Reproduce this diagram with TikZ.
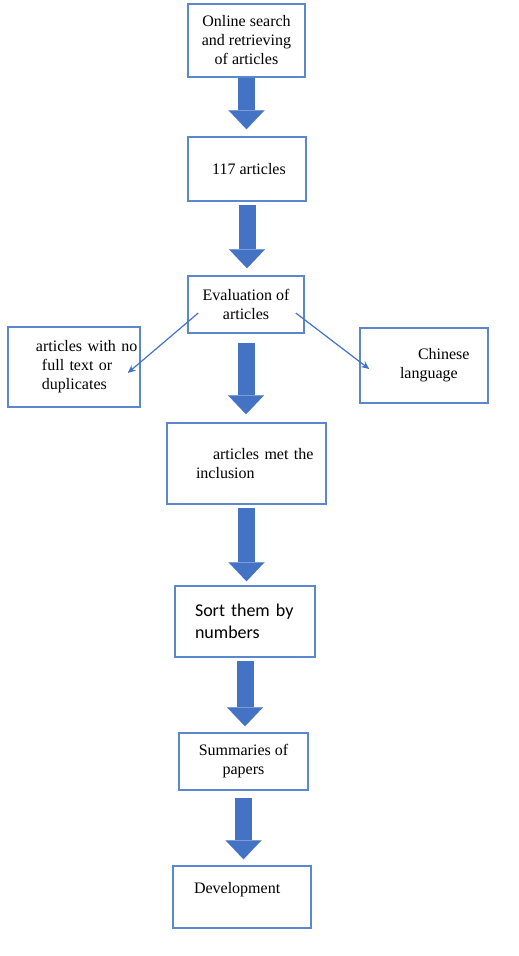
\documentclass[tikz,border=0pt]{standalone}
\usepackage{fontspec}
\setmainfont{Liberation Serif}
\newfontfamily\sortfont{Carlito}
\usepackage{tikz}
\usetikzlibrary{arrows.meta}
\definecolor{boxblue}{RGB}{91,135,205}
\definecolor{arrowblue}{RGB}{68,114,196}

\begin{document}
\begin{tikzpicture}[%
  x=1pt, y=-1pt,
  >={Stealth[length=8pt,width=7pt]},
  box/.style={draw=boxblue, line width=1.5pt, inner sep=0pt,
    font=\fontsize{16}{19}\selectfont},
  bigarrow/.style={arrowblue, line width=17pt,
    -{Triangle[width=36pt,length=19pt,line width=0.01pt]}},
  thinarrow/.style={arrowblue, line width=1.2pt, ->},
]

  \useasboundingbox (0,0) rectangle (519,956);

  \node[box, minimum width=117pt, minimum height=73pt, align=center]
    (online) at (246.5,40.5) {Online search\\and retrieving\\of articles};
  \node[box, minimum width=118pt, minimum height=64pt]
    (found) at (247,169) {\hspace*{4pt}117 articles};
  \node[box, minimum width=116pt, minimum height=57pt, align=center]
    (eval) at (246,304.5) {Evaluation of\\articles};
  \node[box, minimum width=132pt, minimum height=80pt, text width=132pt, align=left]
    (nofull) at (74,367)
    {\hspace*{28pt}articles with no\\\hspace*{34pt}full text or\\\hspace*{34pt}duplicates};
  \node[box, minimum width=128pt, minimum height=75pt, text width=128pt, align=left]
    (chinese) at (424,365.5) {\hspace*{58pt}Chinese\\\hspace*{40pt}language};
  \node[box, minimum width=159pt, minimum height=81pt, text width=159pt, align=left]
    (incl) at (246.5,463.5) {\hspace*{46pt}articles met the\\\hspace*{29pt}inclusion};
  \node[box, minimum width=140pt, minimum height=71pt, text width=140pt, align=left,
    font=\sortfont\fontsize{18}{22}\selectfont]
    (sort) at (245,621.5) {\hspace*{20pt}Sort them by\\\hspace*{20pt}numbers};
  \node[box, minimum width=129pt, minimum height=57pt, align=center]
    (summ) at (243.5,761.5) {Summaries of\\papers};
  \node[box, minimum width=138pt, minimum height=62pt, text width=138pt, align=left]
    (dev) at (242,897) {\hspace*{21pt}Development\\\mbox{}};

  \draw[bigarrow, shorten >=7pt] (online.south) -- (online.south |- found.north);
  \draw[bigarrow, shorten <=3pt, shorten >=7pt] (found.south) -- (found.south |- eval.north);
  \draw[bigarrow, shorten <=9pt, shorten >=8pt] (eval.south) -- (eval.south |- incl.north);
  \draw[bigarrow, shorten <=3pt, shorten >=4pt] (incl.south) -- (incl.south |- sort.north);
  \draw[bigarrow, shorten <=3pt, shorten >=6pt] (sort.south) -- (sort.south |- summ.north);
  \draw[bigarrow, shorten <=7pt, shorten >=6pt] (summ.south) -- (summ.south |- dev.north);

  \draw[thinarrow] ([xshift=11pt,yshift=-8.5pt]eval.west) -- ([xshift=-13pt,yshift=-6pt]nofull.east);
  \draw[thinarrow] ([xshift=-9pt,yshift=-8.5pt]eval.east) -- ([xshift=10pt,yshift=-3.5pt]chinese.west);

\end{tikzpicture}
\end{document}
